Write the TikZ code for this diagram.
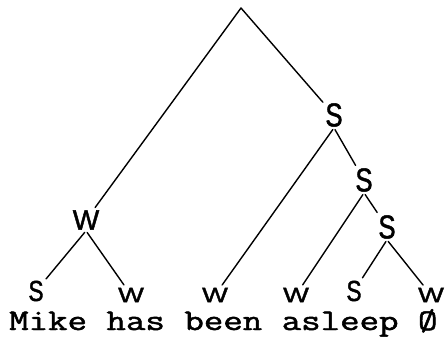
\documentclass[tikz,border=0pt]{standalone}
\usepackage{fontspec}
\usepackage{graphicx}
\newfontfamily\wordsfont[FakeBold=1.5]{Latin Modern Mono}
\newfontfamily\lblfont[FakeBold=1.5]{Liberation Sans}
\newcommand{\BigS}{{\fontsize{33}{33}\selectfont\scalebox{0.78}[1]{S}}}
\newcommand{\MidS}{{\fontsize{29}{29}\selectfont\scalebox{0.78}[1]{S}}}
\newcommand{\BigW}{{\fontsize{28}{28}\selectfont W}}
\newcommand{\SmW}{{\fontsize{21}{21}\selectfont\scalebox{1.3}[1]{W}}}
\begin{document}
\begin{tikzpicture}[x=1pt,y=-1pt,
  lbl/.style={inner sep=1pt, font=\lblfont},
  branch/.style={line width=1.4pt, line cap=round, shorten <=2pt, shorten >=2pt}]
\useasboundingbox (0,0) rectangle (445,342);
\coordinate (R) at (241,8);
\node[lbl] (s1) at (334,115) {\BigS};
\node[lbl] (w1) at (86,220) {\BigW};
\node[lbl] (s2) at (364,180) {\BigS};
\node[lbl] (s3) at (387,227) {\BigS};
\node[lbl] (b1) at (36,291) {\MidS};
\node[lbl] (b2) at (131,295) {\SmW};
\node[lbl] (b3) at (215,295) {\SmW};
\node[lbl] (b4) at (296,295) {\SmW};
\node[lbl] (b5) at (354,291) {\MidS};
\node[lbl] (b6) at (431,295) {\SmW};
\draw[branch, shorten <=0pt] (R) -- (s1);
\draw[branch, shorten <=0pt] (R) -- (w1);
\draw[branch] (w1.south) -- (b1);
\draw[branch] (w1.south) -- (b2);
\draw[branch] (s1.south) -- (b3);
\draw[branch] (s1.south) -- (s2);
\draw[branch] (s2.south) -- (b4);
\draw[branch] (s2.south) -- (s3);
\draw[branch] (s3.south) -- (b5);
\draw[branch] (s3.south) -- (b6);
\node[anchor=base west, inner sep=0pt, font=\wordsfont\fontsize{30}{30}\selectfont] (words) at (9,330) {\scalebox{1.26}[1]{Mike has been asleep Ø}};
\end{tikzpicture}
\end{document}
